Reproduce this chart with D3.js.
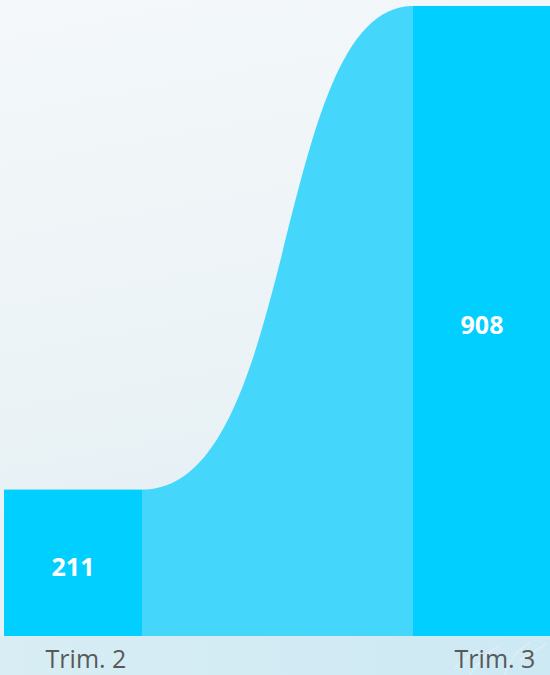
<!DOCTYPE html>
<html>
<head>
<meta charset="utf-8">
<script src="https://cdn.jsdelivr.net/npm/d3@7"></script>
<style>
  html, body { margin: 0; padding: 0; overflow: hidden; }
  svg { display: block; }
</style>
</head>
<body>
<svg id="chart" width="550" height="675"></svg>
<script>
const categories = ["Trim. 2", "Trim. 3"];
const values = [211, 908];
const valueLabels = ["211", "908"];

const W = 550, H = 675;
const svg = d3.select("#chart");
const defs = svg.append("defs");

const bg = defs.append("linearGradient").attr("id", "bg").attr("x1", 0).attr("y1", 0).attr("x2", 0.15).attr("y2", 1);
bg.append("stop").attr("offset", "0%").attr("stop-color", "#f4f8fa");
bg.append("stop").attr("offset", "55%").attr("stop-color", "#ecf3f6");
bg.append("stop").attr("offset", "100%").attr("stop-color", "#e0eef3");

const strip = defs.append("linearGradient").attr("id", "strip").attr("x1", 0).attr("y1", 0).attr("x2", 1).attr("y2", 0);
strip.append("stop").attr("offset", "0%").attr("stop-color", "#d8edf4");
strip.append("stop").attr("offset", "100%").attr("stop-color", "#cde9f3");

svg.append("rect").attr("width", W).attr("height", H).attr("fill", "url(#bg)");
svg.append("rect").attr("x", 0).attr("y", 636).attr("width", W).attr("height", H - 636).attr("fill", "url(#strip)");

// faint splash texture bottom right
const splash = svg.append("g").attr("opacity", 0.35).attr("stroke", "#ffffff").attr("fill", "none").attr("stroke-width", 1.2);
splash.append("path").attr("d", "M470,675 C480,660 490,650 500,645 M505,675 C508,662 515,652 530,642 M520,660 C528,656 536,650 546,644 M455,668 C462,660 470,656 478,650");

const x = d3.scaleBand().domain(categories).range([4, 551]).paddingInner(271 / 409).paddingOuter(0);
const y = d3.scaleLinear().domain([0, 908]).range([636, 6]);

// connector ribbon
const x0 = x(categories[0]) + x.bandwidth();
const x1 = x(categories[1]);
const gap = x1 - x0;
const y0 = y(values[0]), y1 = y(values[1]), yb = y(0);
const p = d3.path();
p.moveTo(x0, yb);
p.lineTo(x0, y0);
p.bezierCurveTo(x0 + 0.58 * gap, y0, x0 + 0.48 * gap, y1, x1, y1);
p.lineTo(x1, yb);
p.closePath();
svg.append("path").attr("d", p.toString()).attr("fill", "#45d6fb");

// bars
svg.selectAll("rect.bar").data(values).join("rect")
  .attr("class", "bar")
  .attr("x", (d, i) => x(categories[i]))
  .attr("y", d => y(d))
  .attr("width", x.bandwidth())
  .attr("height", d => y(0) - y(d))
  .attr("fill", "#00cfff");

// value labels
svg.selectAll("text.val").data(values).join("text")
  .attr("class", "val")
  .attr("x", (d, i) => x(categories[i]) + x.bandwidth() / 2)
  .attr("y", d => (y(d) + y(0)) / 2 + 4)
  .attr("dy", "0.35em")
  .attr("text-anchor", "middle")
  .attr("font-family", "'Open Sans', 'Noto Sans', sans-serif")
  .attr("font-weight", 700)
  .attr("font-size", 25)
  .attr("fill", "#ffffff")
  .text((d, i) => valueLabels[i]);

// category labels
svg.selectAll("text.cat").data(categories).join("text")
  .attr("class", "cat")
  .attr("x", d => x(d) + x.bandwidth() / 2 + 13)
  .attr("y", 668)
  .attr("text-anchor", "middle")
  .attr("font-family", "'Open Sans', 'Noto Sans', sans-serif")
  .attr("font-size", 25)
  .attr("fill", "#595959")
  .text(d => d);
</script>
</body>
</html>
